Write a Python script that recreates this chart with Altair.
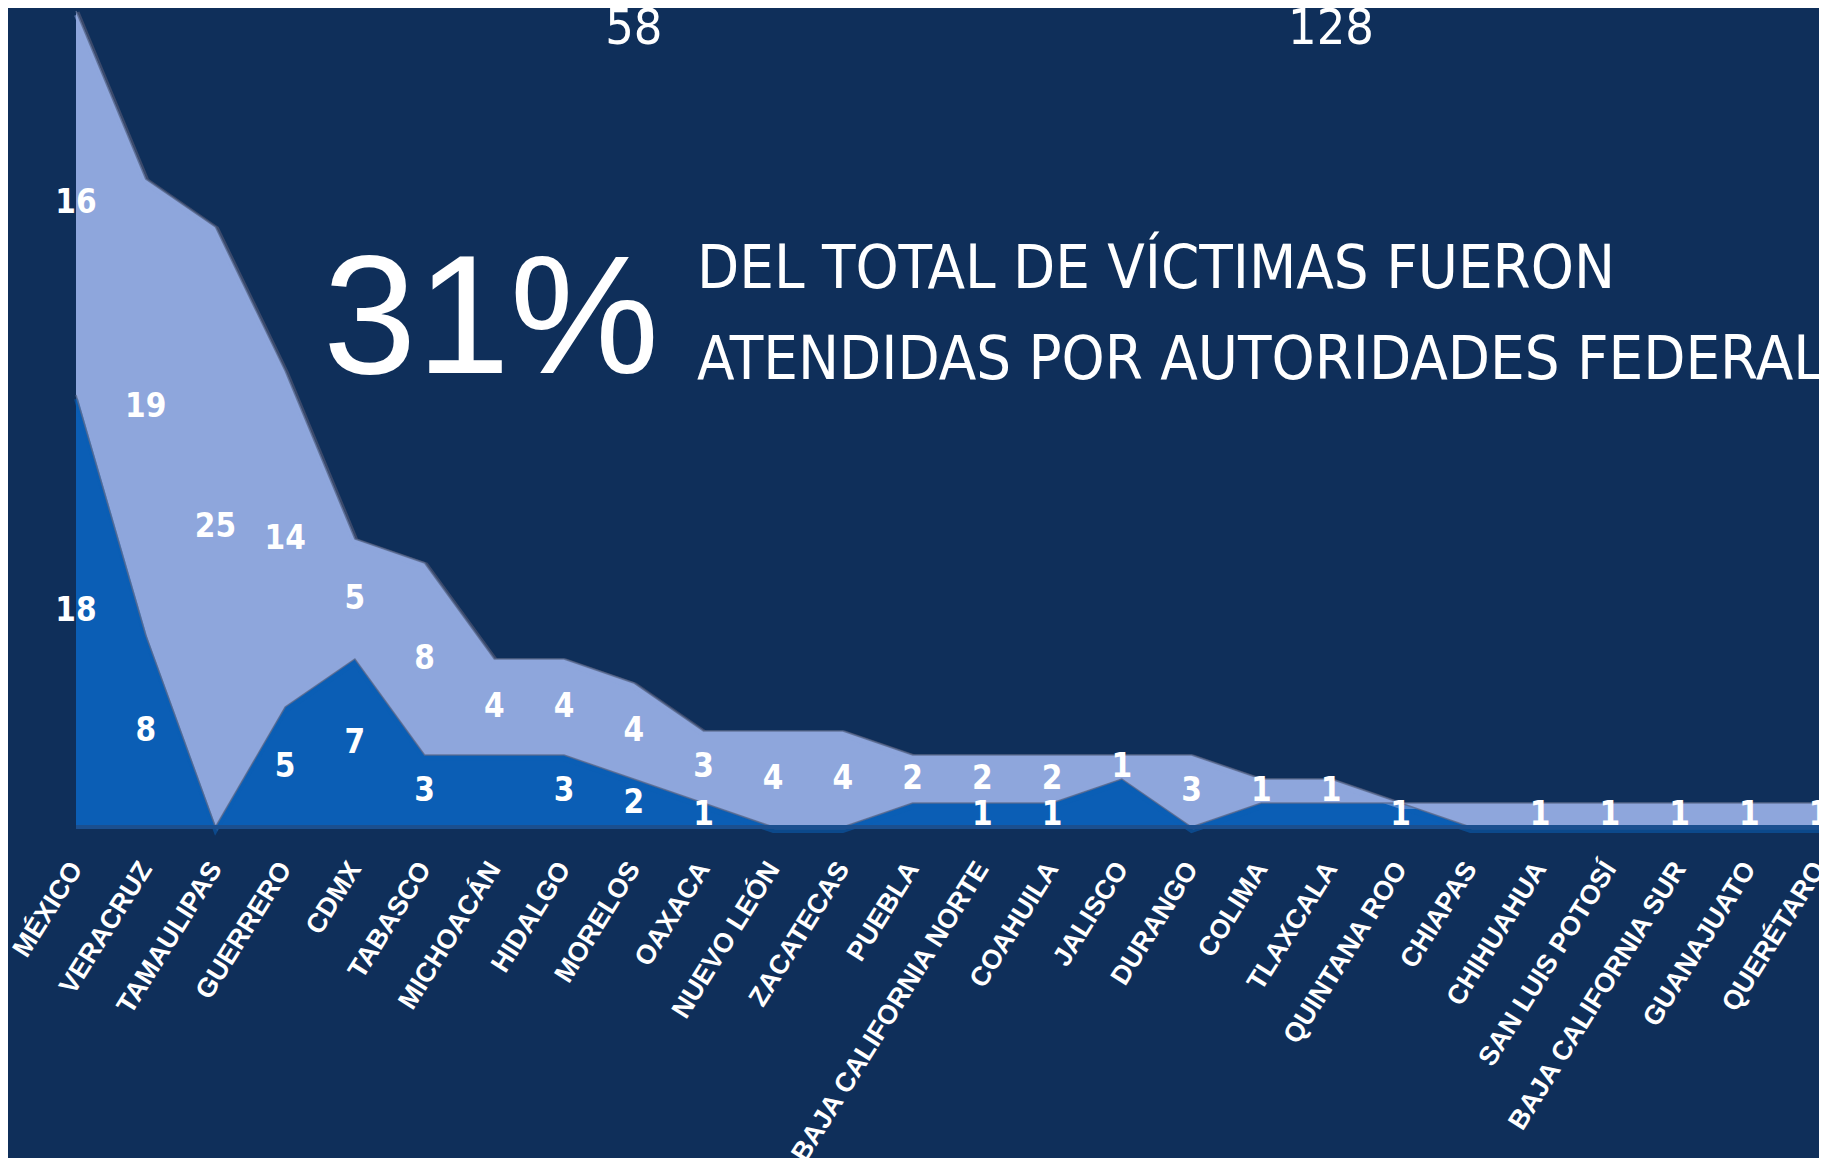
import altair as alt
import pandas as pd

# ---------------- data ----------------
estados = ["MÉXICO", "VERACRUZ", "TAMAULIPAS", "GUERRERO", "CDMX", "TABASCO",
           "MICHOACÁN", "HIDALGO", "MORELOS", "OAXACA", "NUEVO LEÓN", "ZACATECAS",
           "PUEBLA", "BAJA CALIFORNIA NORTE", "COAHUILA", "JALISCO", "DURANGO",
           "COLIMA", "TLAXCALA", "QUINTANA ROO", "CHIAPAS", "CHIHUAHUA",
           "SAN LUIS POTOSÍ", "BAJA CALIFORNIA SUR", "GUANAJUATO", "QUERÉTARO"]
federales = [18, 8, 0, 5, 7, 3, 3, 3, 2, 1, 0, 0, 1, 1, 1, 2, 0, 1, 1, 1, 0, 0, 0, 0, 0, 0]
otras = [16, 19, 25, 14, 5, 8, 4, 4, 4, 3, 4, 4, 2, 2, 2, 1, 3, 1, 1, 0, 1, 1, 1, 1, 1, 1]
series = ["Federales", "Otras"]
# data labels that the original does not show
etiquetas_ocultas = [("MICHOACÁN", "Federales"), ("PUEBLA", "Federales"),
                     ("JALISCO", "Federales"), ("COLIMA", "Federales"),
                     ("TLAXCALA", "Federales"), ("CHIAPAS", "Otras")]

total_fed = sum(federales)
total_otras = sum(otras)
pct = round(100 * total_fed / (total_fed + total_otras))

rows = []
for i, e in enumerate(estados):
    rows.append({"estado": e, "serie": "Federales", "orden": 0, "valor": federales[i]})
    rows.append({"estado": e, "serie": "Otras", "orden": 1, "valor": otras[i]})
df = pd.DataFrame(rows)
df["mostrar"] = [(r.valor > 0) and ((r.estado, r.serie) not in etiquetas_ocultas)
                 for r in df.itertuples()]

totales = pd.DataFrame({"estado": ["MORELOS", "TLAXCALA"],
                        "texto": [str(total_fed), str(total_otras)]})

BG = "#0f2f5a"
LIGHT = "#8ea6dc"
DARK = "#0b5eb5"
NARROW = "DejaVu Sans Condensed, Liberation Sans Narrow, sans-serif"

x_enc = alt.X("estado:N", sort=estados, scale=alt.Scale(padding=0),
              axis=alt.Axis(title=None, labelAngle=-58, labelAlign="right",
                            labelBaseline="middle", labelPadding=37,
                            labelFont="Liberation Sans", labelFontWeight="bold",
                            labelFontSize=27, labelColor="white", labelLimit=0,
                            domain=False, ticks=False, grid=False,
                            labelOverlap=False, labelBound=False, labelFlush=False))
y_scale = alt.Scale(domain=[0, 34], nice=False, zero=True)

base = alt.Chart(df).transform_stack(
    stack="valor", groupby=["estado"], as_=["y0", "y1"],
    sort=[alt.SortField("orden", order="ascending")]
).transform_calculate(mid="(datum.y0 + datum.y1) / 2")

color_enc = alt.Color("serie:N", scale=alt.Scale(domain=series, range=[DARK, LIGHT]),
                      legend=None)

shadow = base.mark_line(strokeWidth=3, color="#3b4a6c", xOffset=2, yOffset=1,
                        interpolate="linear").encode(
    x=x_enc, y=alt.Y("y1:Q", scale=y_scale, axis=None), detail="serie:N")

area = base.mark_area(interpolate="linear").encode(
    x=x_enc,
    y=alt.Y("y1:Q", scale=y_scale, axis=None),
    y2="y0:Q",
    color=color_enc,
    order=alt.Order("orden:Q"))

highlight = base.mark_line(strokeWidth=4, yOffset=4, opacity=0.55,
                           interpolate="linear").encode(
    x=x_enc, y=alt.Y("y1:Q", scale=y_scale, axis=None),
    color=alt.Color("serie:N", scale=alt.Scale(domain=series, range=["#3a8ee6", "#b5c8f3"]),
                    legend=None),
    detail="serie:N")

edge = base.mark_line(strokeWidth=1.5, color="#5a6a8e", opacity=0.8,
                      interpolate="linear").encode(
    x=x_enc, y=alt.Y("y1:Q", scale=y_scale, axis=None), detail="serie:N")

baseline = alt.Chart(pd.DataFrame({"y": [0]})).mark_rule(
    color="#1b4f8f", strokeWidth=4).encode(
    y=alt.Y("y:Q", scale=y_scale, axis=None))

labels = base.transform_filter("datum.mostrar").mark_text(
    font=NARROW, fontWeight="bold", fontSize=33, color="white",
    baseline="middle", align="center").encode(
    x=x_enc, y=alt.Y("mid:Q", scale=y_scale, axis=None),
    text="valor:Q")

tot = alt.Chart(totales).mark_text(
    font=NARROW, fontSize=50, color="white", baseline="alphabetic",
    align="center").encode(
    x=alt.X("estado:N", sort=estados, scale=alt.Scale(padding=0)),
    y=alt.value(33), text="texto:N")

big = alt.Chart(pd.DataFrame({"t": [f"{pct}%"]})).mark_text(
    font="Liberation Sans", fontSize=168, color="white", align="left",
    baseline="alphabetic").encode(x=alt.value(247), y=alt.value(362), text="t:N")

msg = alt.Chart(pd.DataFrame({"t": [["DEL TOTAL DE VÍCTIMAS FUERON",
                                     "ATENDIDAS POR AUTORIDADES FEDERALES"]]})).mark_text(
    font=NARROW, fontSize=61, color="white", align="left", baseline="alphabetic",
    lineHeight=91).encode(x=alt.value(621), y=alt.value(277), text="t")

chart = alt.layer(shadow, area, highlight, edge, baseline, labels, tot, big, msg).properties(
    width=1743, height=816,
    autosize=alt.AutoSizeParams(type="none"),
    padding={"left": 68, "top": 3, "right": 0, "bottom": 331},
    background=BG
).configure_view(stroke=None)

chart.save("out.html", embed_options={"renderer": "svg", "actions": False})
